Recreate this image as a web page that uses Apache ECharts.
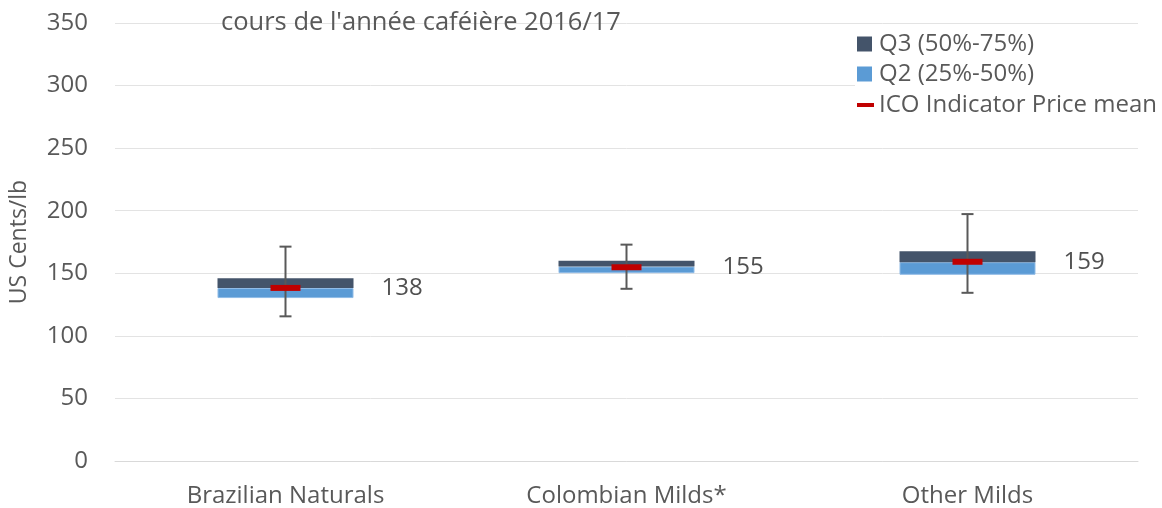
<!DOCTYPE html>
<html lang="fr">
<head>
    <meta charset="UTF-8">
    <title>Prix indicatif OIC</title>
    <style>
        body { margin: 0; background: #fff; }
        #main { width: 1162px; height: 508px; }
    </style>
</head>
<body>
<div id="main"></div>
<script src="https://cdn.jsdelivr.net/npm/echarts@6/dist/echarts.min.js"></script>
<script>
    // données
    var categories = ['Brazilian Naturals', 'Colombian Milds*', 'Other Milds'];
    var whiskerLow = [115.6, 137.6, 134.4];
    var q1 = [130.2, 150.1, 148.8];
    var median = [138.2, 155.4, 158.9];
    var q3 = [146.1, 160.1, 167.6];
    var whiskerHigh = [171.3, 172.9, 197.3];
    var means = [138.3, 154.8, 159.2];
    var yTicks = [0, 50, 100, 150, 200, 250, 300, 350];

    var font = 'Open Sans';
    var grey = '#595959';

    var q2Part = median.map(function (v, i) { return +(v - q1[i]).toFixed(1); });
    var q3Part = q3.map(function (v, i) { return +(v - median[i]).toFixed(1); });

    var whiskerData = categories.map(function (c, i) {
        return [i, whiskerLow[i], whiskerHigh[i]];
    });

    var myChart = echarts.init(document.getElementById('main'));

    var option = {
        animation: false,
        textStyle: { fontFamily: font },
        title: {
            text: "cours de l'année caféière 2016/17",
            left: 216,
            top: 5,
            textStyle: { fontFamily: font, fontSize: 25.5, fontWeight: 'normal', color: grey }
        },
        legend: [{
            orient: 'vertical',
            left: 855,
            top: 31,
            itemWidth: 15,
            itemHeight: 15,
            itemGap: 6,
            padding: [1, 110, 1, 2],
            backgroundColor: '#fff',
            itemStyle: { borderWidth: 0 },
            data: [{ name: 'Q3 (50%-75%)', icon: 'rect' }, { name: 'Q2 (25%-50%)', icon: 'rect' }],
            textStyle: { fontFamily: font, fontSize: 24, color: grey, padding: [0, 0, 0, 2] }
        }, {
            left: 855,
            top: 92,
            itemWidth: 17,
            itemHeight: 4,
            padding: [1, 10, 1, 2],
            backgroundColor: '#fff',
            data: [{ name: 'ICO Indicator Price mean', icon: 'rect' }],
            textStyle: { fontFamily: font, fontSize: 24, color: grey }
        }],
        grid: { left: 115, right: 24, top: 23, bottom: 45 },
        xAxis: {
            type: 'category',
            data: categories,
            axisTick: { show: false },
            axisLine: { lineStyle: { color: '#d9d9d9' } },
            axisLabel: { fontSize: 24, color: grey, margin: 23 }
        },
        yAxis: {
            type: 'value',
            min: yTicks[0],
            max: yTicks[yTicks.length - 1],
            interval: 50,
            name: 'US Cents/lb',
            nameLocation: 'middle',
            nameGap: 84,
            nameTextStyle: { fontSize: 23, color: grey },
            axisLabel: { fontSize: 24, color: grey, margin: 27 },
            splitLine: { lineStyle: { color: '#e3e3e3' } }
        },
        series: [
            {
                name: 'base',
                type: 'bar',
                stack: 'box',
                barWidth: 136,
                silent: true,
                itemStyle: { color: 'transparent' },
                data: q1
            },
            {
                name: 'Q2 (25%-50%)',
                type: 'bar',
                stack: 'box',
                itemStyle: { color: '#5b9bd5', borderColor: '#8fbbe6', borderWidth: 1 },
                data: q2Part
            },
            {
                name: 'Q3 (50%-75%)',
                type: 'bar',
                stack: 'box',
                itemStyle: { color: '#44546a' },
                data: q3Part
            },
            {
                name: 'whiskers',
                type: 'custom',
                z: 3,
                renderItem: function (params, api) {
                    var x = api.coord([api.value(0), api.value(1)])[0];
                    var lo = api.coord([api.value(0), api.value(1)])[1];
                    var hi = api.coord([api.value(0), api.value(2)])[1];
                    var s = { stroke: '#595959', lineWidth: 2 };
                    return {
                        type: 'group',
                        children: [
                            { type: 'line', shape: { x1: x, y1: lo, x2: x, y2: hi }, style: s },
                            { type: 'line', shape: { x1: x - 6, y1: lo, x2: x + 6, y2: lo }, style: s },
                            { type: 'line', shape: { x1: x - 6, y1: hi, x2: x + 6, y2: hi }, style: s }
                        ]
                    };
                },
                data: whiskerData
            },
            {
                name: 'ICO Indicator Price mean',
                type: 'scatter',
                z: 5,
                symbol: 'rect',
                symbolSize: [30, 6],
                itemStyle: { color: '#c00000', opacity: 1 },
                label: {
                    show: true,
                    position: 'right',
                    distance: 81,
                    fontSize: 24,
                    color: '#505050',
                    formatter: function (p) { return Math.round(p.value); }
                },
                data: means
            }
        ]
    };

    myChart.setOption(option);
</script>
</body>
</html>
